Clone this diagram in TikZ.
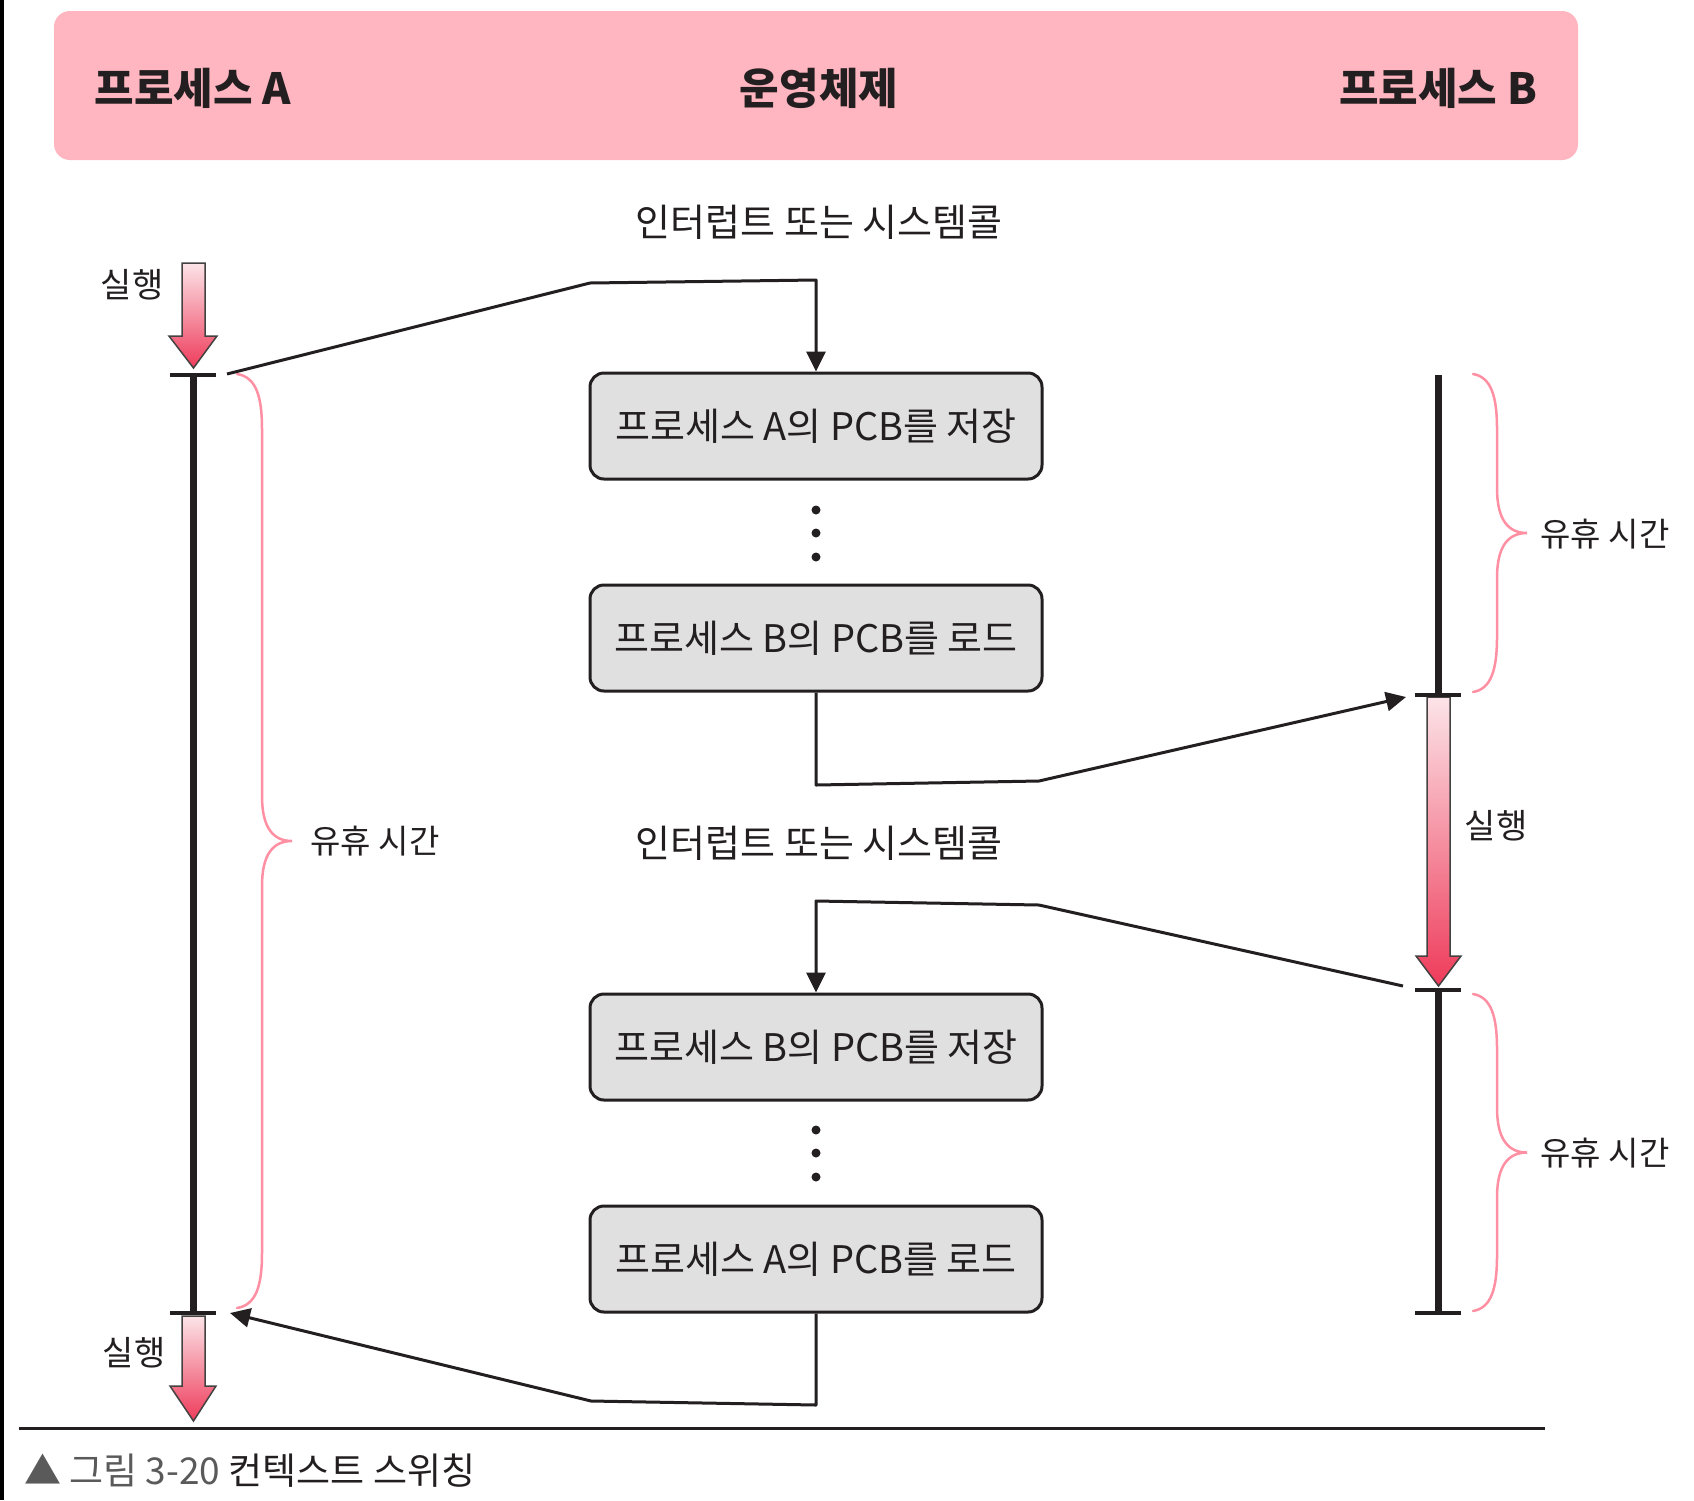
\documentclass[tikz,border=0pt]{standalone}
\usepackage{fontspec}
\newfontfamily\kr{Noto Sans CJK KR}
\usetikzlibrary{arrows.meta}
\definecolor{hdrpink}{HTML}{FFB6C1}
\definecolor{boxgray}{HTML}{E0E0E0}
\definecolor{ink}{HTML}{231F20}
\definecolor{bracepink}{HTML}{FF8FA3}
\definecolor{capgray}{HTML}{5A5A5A}
\definecolor{arrowtop}{HTML}{FCE4E8}
\definecolor{arrowbot}{HTML}{EE3B5A}
% red run arrow: #1 shaft left, #2 shaft right, #3 head left, #4 head right, #5 top, #6 head top, #7 tip
\newcommand\runarrow[7]{%
  \path[draw=ink!85, line width=1.5pt, line join=miter, top color=arrowtop, bottom color=arrowbot]
    (#1,#5) -- (#2,#5) -- (#2,#6) -- (#4,#6) -- ({(#1+#2)/2},#7) -- (#3,#6) -- (#1,#6) -- cycle;}
% pink brace: #1 x end, #2 y top, #3 y bottom, #4 x vertical, #5 x tip
\newcommand\idlebrace[5]{%
  \draw[bracepink, line width=2.5pt, line cap=round]
    (#1,#2) .. controls ({#4-6},{#2+3}) and (#4,{#2+22}) .. (#4,{#2+55})
    -- (#4,{(#2+#3)/2-45}) .. controls (#4,{(#2+#3)/2-12}) and ({#4+12},{(#2+#3)/2}) .. (#5,{(#2+#3)/2})
    .. controls ({#4+12},{(#2+#3)/2}) and (#4,{(#2+#3)/2+12}) .. (#4,{(#2+#3)/2+45})
    -- (#4,{#3-55}) .. controls (#4,{#3-22}) and ({#4-6},{#3-3}) .. (#1,#3);}
\begin{document}
\begin{tikzpicture}[x=1pt,y=-1pt,
  hdr/.style={font=\kr\bfseries\fontsize{43}{48}\selectfont, text=ink, inner sep=0pt},
  lbl/.style={font=\kr\fontsize{38}{44}\selectfont, text=ink, inner sep=0pt},
  runlbl/.style={font=\kr\fontsize{34}{40}\selectfont, text=ink, inner sep=0pt},
  idlelbl/.style={font=\kr\fontsize{33}{38}\selectfont, text=ink, inner sep=0pt},
  pcb/.style={draw=ink, line width=3pt, fill=boxgray, rounded corners=14pt,
    minimum width=452pt, minimum height=106pt,
    font=\kr\fontsize{38}{44}\selectfont, text=ink, inner sep=0pt},
  conn/.style={draw=ink, line width=3pt, line join=round, -{Triangle[length=20pt,width=19pt]}},
  timeline/.style={draw=ink, line width=7pt},
  tickbar/.style={draw=ink, line width=4pt},
]
\useasboundingbox (0,0) rectangle (1694,1500);
\fill[white] (0,0) rectangle (1694,1500);
\fill[black] (0,0) rectangle (4,1500);

% header
\fill[hdrpink, rounded corners=16pt] (54,11) rectangle (1578,160);
\node[hdr] (hA) at (193,88) {프로세스 A};
\node[hdr] (hOS) at (819,88) {운영체제};
\node[hdr] (hB) at (1438,88) {프로세스 B};

% labels
\node[lbl] (int1) at (819,222) {인터럽트 또는 시스템콜};
\node[lbl] (int2) at (819,843) {인터럽트 또는 시스템콜};

% boxes
\node[pcb] (b1) at (816,426) {프로세스 A의 PCB를 저장};
\node[pcb] (b2) at (816,638) {프로세스 B의 PCB를 로드};
\node[pcb] (b3) at (816,1047) {프로세스 B의 PCB를 저장};
\node[pcb] (b4) at (816,1259) {프로세스 A의 PCB를 로드};

% dots
\foreach \yy in {510,533,557,1130,1153,1177} \fill[ink] (816,\yy) circle (4.5pt);

% run arrows
\runarrow{182}{205}{169}{217}{263}{336}{368}
\runarrow{182}{205}{170}{216}{1316}{1386}{1421}
\runarrow{1427}{1450}{1416}{1461}{697}{956}{986}

% timelines
\draw[timeline] (193,375) -- (193,1313);
\draw[tickbar] (170,375) -- (216,375);
\draw[tickbar] (170,1313) -- (216,1313);
\draw[timeline] (1438,375) -- (1438,695);
\draw[timeline] (1438,990) -- (1438,1313);
\draw[tickbar] (1415,695) -- (1461,695);
\draw[tickbar] (1415,990) -- (1461,990);
\draw[tickbar] (1415,1313) -- (1461,1313);

% run labels
\node[runlbl] (run1) at (132,285) {실행};
\node[runlbl] (run2) at (1496,826) {실행};
\node[runlbl] (run3) at (134,1353) {실행};

% braces and idle labels
\idlebrace{237}{374}{1308}{262}{292}
\idlebrace{1473}{374}{692}{1497}{1527}
\idlebrace{1473}{994}{1311}{1497}{1527}
\node[idlelbl] (idle1) at (375,841) {유휴 시간};
\node[idlelbl] (idle2) at (1605,534) {유휴 시간};
\node[idlelbl] (idle3) at (1605,1153) {유휴 시간};

% connector coordinates
\coordinate (a1) at (227,374);
\coordinate (c1a) at (590,283);
\coordinate (c1b) at (816,280);
\coordinate (c2a) at (816,785);
\coordinate (c2b) at (1039,781);
\coordinate (r1) at (1406,697);
\coordinate (r2) at (1403,986);
\coordinate (c3a) at (1039,905);
\coordinate (c3b) at (816,901);
\coordinate (c4a) at (816,1405);
\coordinate (c4b) at (591,1401);
\coordinate (a2) at (230,1313);

\draw[conn] (a1) -- (c1a) -- (c1b) -- (b1.north);
\draw[conn] (b2.south) -- (c2a) -- (c2b) -- (r1);
\draw[conn] (r2) -- (c3a) -- (c3b) -- (b3.north);
\draw[conn] (b4.south) -- (c4a) -- (c4b) -- (a2);

% bottom rule and caption
\coordinate (sepL) at (19,1428);
\coordinate (sepR) at (1545,1428);
\draw[ink, line width=3pt] (sepL) -- (sepR);
\node[anchor=west, font=\kr\fontsize{37}{42}\selectfont, text=capgray, inner sep=0pt] (cap) at (24,1471)
  {▲ 그림 3-20 {\color{ink}컨텍스트 스위칭}};
\end{tikzpicture}
\end{document}
